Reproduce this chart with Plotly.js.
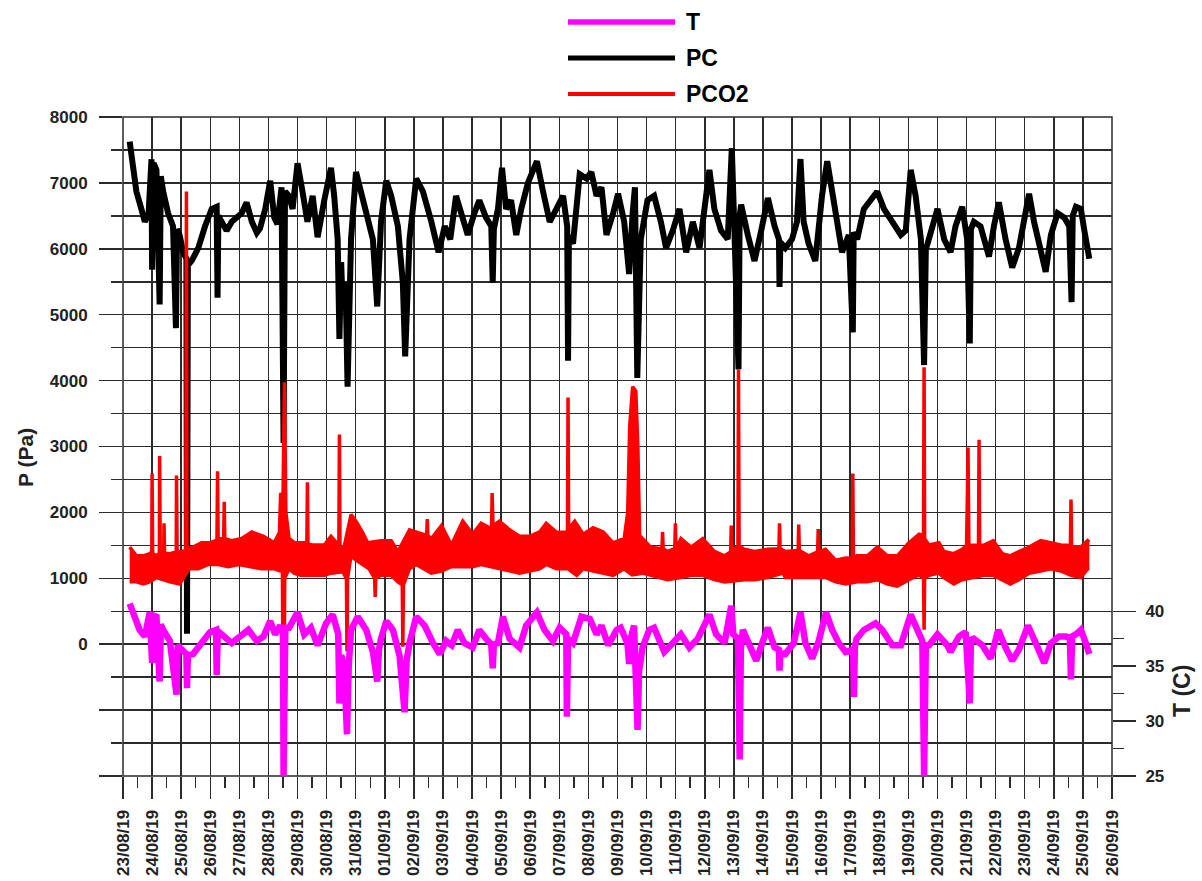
<!DOCTYPE html>
<html>
<head>
<meta charset="utf-8">
<script src="https://cdn.plot.ly/plotly-3.0.1.min.js"></script>
<style>html,body{margin:0;padding:0;background:#fff;}#chart{width:1202px;height:881px;}</style>
</head>
<body>
<div id="chart"></div>
<script>
// Tick labels: one per day, 23/08/19 .. 26/09/19 (x = days since 23/08/19 00:00)
const dateLabels = ['23/08/19','24/08/19','25/08/19','26/08/19','27/08/19','28/08/19','29/08/19','30/08/19','31/08/19',
  '01/09/19','02/09/19','03/09/19','04/09/19','05/09/19','06/09/19','07/09/19','08/09/19','09/09/19','10/09/19',
  '11/09/19','12/09/19','13/09/19','14/09/19','15/09/19','16/09/19','17/09/19','18/09/19','19/09/19','20/09/19',
  '21/09/19','22/09/19','23/09/19','24/09/19','25/09/19','26/09/19'];
const dateTickDays = [0,1,2,3,4,5,6,7,8,9,10,11,12,13,14,15,16,17,18,19,20,21,22,23,24,25,26,27,28,29,30,31,32,33,34];
const pTickVals = [-2000,-1000,0,1000,2000,3000,4000,5000,6000,7000,8000];
const pTickText = ['','','0','1000','2000','3000','4000','5000','6000','7000','8000'];
const tTickVals = [25,30,35,40];
const tMinorVals = [27.5,32.5,37.5];

// PC (Pa)
const pcDays = [0.23,0.34,0.46,0.63,0.75,0.88,0.98,1.0,1.05,1.15,1.26,1.3,1.38,1.55,1.72,1.82,1.86,1.95,2.07,2.18,2.2,2.23,2.36,2.59,2.82,3.05,3.22,3.25,3.28,3.39,3.56,3.74,3.91,4.08,4.25,4.43,4.6,4.71,4.89,5.06,5.2,5.31,5.45,5.52,5.57,5.71,5.83,6.0,6.17,6.34,6.52,6.69,6.92,7.15,7.26,7.38,7.44,7.5,7.55,7.65,7.72,7.78,7.84,8.01,8.18,8.41,8.59,8.74,8.8,8.87,9.05,9.22,9.45,9.62,9.7,9.76,9.85,10.08,10.31,10.6,10.85,11.06,11.25,11.45,11.68,11.85,12.08,12.25,12.48,12.66,12.71,12.75,12.89,13.03,13.17,13.34,13.52,13.69,13.92,14.23,14.44,14.67,14.9,15.13,15.27,15.3,15.33,15.47,15.7,15.93,16.1,16.28,16.45,16.62,16.85,17.02,17.23,17.4,17.52,17.6,17.68,17.74,17.8,18.03,18.26,18.49,18.67,18.9,19.13,19.36,19.59,19.82,19.99,20.16,20.33,20.56,20.79,20.93,21.02,21.16,21.2,21.25,21.48,21.71,21.94,22.17,22.4,22.55,22.57,22.6,22.77,23.0,23.17,23.29,23.4,23.57,23.8,24.03,24.21,24.38,24.55,24.72,24.95,25.09,25.12,25.24,25.47,25.7,25.93,26.16,26.45,26.74,26.91,27.08,27.25,27.43,27.54,27.6,27.66,27.83,28.0,28.23,28.45,28.62,28.85,29.02,29.11,29.15,29.25,29.48,29.77,29.94,30.11,30.34,30.57,30.8,30.98,31.15,31.32,31.55,31.72,31.9,32.13,32.36,32.53,32.61,32.65,32.76,32.93,33.05,33.16,33.22];
const pcValues = [7625,7263,6870,6605,6410,6540,7360,5684,7300,7197,5157,7100,6870,6540,6342,4795,6300,6200,5947,5850,157,5750,5816,6013,6342,6605,6638,5256,6500,6410,6276,6410,6473,6539,6704,6410,6243,6309,6605,7033,6473,6375,6934,3052,6870,6803,6605,7296,6870,6410,6803,6177,6737,7230,6803,6145,4631,5800,5158,5500,3907,5200,6145,7164,6870,6473,6145,5125,5900,6409,7033,6803,6342,5487,4368,5300,6145,7066,6870,6410,5947,6342,6145,6803,6473,6210,6539,6737,6473,6342,5487,6300,6605,7230,6605,6737,6210,6605,7000,7329,6870,6410,6605,6803,6342,4302,6200,6079,7132,7066,7164,6803,6934,6210,6539,6836,6410,5618,6539,6934,4039,5000,6145,6737,6803,6410,6013,6276,6605,5947,6410,6013,6605,7197,6605,6276,6145,7526,6276,4170,6500,6671,6210,5816,6276,6770,6342,6145,5421,6100,6013,6145,6410,7362,6410,6079,5816,6803,7329,6803,6410,5947,6210,4730,6250,6145,6605,6737,6870,6605,6410,6210,6276,7197,6803,6145,4236,6000,6079,6342,6605,6145,5947,6342,6638,6145,4565,6300,6410,6342,5882,6342,6704,6145,5717,6013,6473,6836,6410,6013,5651,6210,6539,6473,6342,5190,6500,6638,6605,6276,5882,5849];

// PCO2 (Pa): upper and lower edges of the noisy band, spikes included
const co2UpperDays = [0.23,0.46,0.7,0.92,0.99,1.0,1.02,1.15,1.25,1.26,1.28,1.4,1.41,1.43,1.61,1.83,1.84,1.86,2.0,2.16,2.18,2.2,2.41,2.7,2.99,3.23,3.25,3.27,3.46,3.48,3.5,3.74,4.08,4.43,4.83,5.2,5.38,5.42,5.5,5.55,5.6,5.71,5.9,6.15,6.32,6.34,6.36,6.52,6.92,7.15,7.42,7.44,7.46,7.6,7.84,8.01,8.23,8.41,8.87,9.22,9.45,9.85,10.08,10.44,10.46,10.48,10.6,10.95,11.29,11.68,12.02,12.31,12.67,12.69,12.72,12.94,13.29,13.63,13.98,14.32,14.55,14.9,15.28,15.3,15.32,15.53,15.82,16.16,16.51,16.85,17.23,17.35,17.42,17.52,17.63,17.7,17.76,17.86,18.14,18.53,18.55,18.57,18.72,18.97,18.99,19.01,19.18,19.53,19.93,20.33,20.68,20.89,20.91,20.93,21.14,21.16,21.18,21.36,21.71,22.17,22.55,22.57,22.59,22.77,23.11,23.21,23.23,23.25,23.57,23.88,23.9,23.92,24.15,24.5,24.84,25.07,25.09,25.11,25.24,25.59,25.93,26.28,26.62,27.02,27.37,27.52,27.54,27.56,27.71,28.05,28.22,28.56,28.85,29.0,29.03,29.05,29.08,29.41,29.43,29.45,29.6,29.92,30.23,30.51,30.8,31.15,31.55,31.9,32.24,32.57,32.59,32.61,32.93,33.16,33.22];
const co2UpperValues = [1473,1341,1341,1374,1400,2591,1380,1341,1380,2854,1380,1400,1834,1380,1374,1400,2558,1400,1407,1420,6870,1450,1473,1538,1538,1580,2624,1600,1600,2163,1600,1571,1604,1703,1637,1538,1700,2295,2200,3973,2000,1604,1538,1538,1540,2459,1520,1505,1505,1637,1500,3183,1480,1473,1966,1867,1703,1538,1571,1571,1407,1736,1703,1650,1900,1650,1604,1801,1505,1867,1670,1834,1750,2295,1800,1867,1736,1637,1637,1703,1834,1703,1700,3743,1750,1867,1670,1768,1703,1538,1604,2000,3315,3907,3841,3000,1650,1604,1473,1450,1703,1450,1407,1450,1834,1450,1604,1473,1604,1407,1341,1400,1801,1400,1500,4170,1500,1440,1407,1440,1450,1834,1450,1407,1407,1420,1815,1420,1341,1400,1749,1400,1440,1275,1308,1300,2591,1320,1341,1341,1473,1341,1341,1538,1670,1650,4203,1600,1505,1538,1407,1374,1440,1500,2300,2986,1500,1500,3104,1500,1505,1571,1374,1341,1407,1473,1571,1538,1505,1500,2196,1500,1473,1571,1550];
const co2LowerDays = [0.23,0.46,0.7,0.92,1.15,1.61,1.95,2.27,2.59,2.94,3.28,3.62,3.97,4.43,4.77,5.2,5.48,5.52,5.56,5.71,5.88,6.11,6.57,6.92,7.15,7.55,7.68,7.7,7.72,7.84,8.01,8.23,8.46,8.65,8.67,8.69,8.87,9.22,9.45,9.6,9.62,9.64,9.85,10.08,10.6,10.95,11.29,11.68,12.02,12.31,12.94,13.29,13.63,13.98,14.32,14.55,14.9,15.3,15.6,15.82,16.16,16.51,16.85,17.23,17.5,17.86,18.14,18.72,19.18,19.53,19.93,20.33,20.68,21.36,21.71,22.17,22.69,22.77,23.11,23.57,24.15,24.5,24.84,25.24,25.59,25.93,26.28,26.62,27.02,27.37,27.52,27.54,27.56,27.71,28.05,28.22,28.56,28.85,29.6,29.92,30.23,30.51,30.8,31.15,31.55,31.9,32.24,32.59,32.93,33.16,33.22];
const co2LowerValues = [946,946,913,946,1012,946,913,1144,1144,1210,1210,1177,1210,1177,1144,1144,1100,-2000,1000,1144,1078,1045,1045,1045,1078,1100,1000,-106,1000,1341,1275,1210,1144,1000,716,1000,1045,1045,946,900,-40,900,1144,1210,1078,1111,1177,1177,1177,1210,1144,1111,1078,1111,1144,1210,1144,1144,1045,1144,1111,1078,1045,1144,1050,1078,1045,979,1012,1045,1045,979,946,979,979,1012,1078,1012,1012,1012,1012,946,913,946,946,979,913,880,979,1050,1000,220,1000,1045,1078,1012,913,979,1045,1045,979,913,979,1078,1111,1144,1111,1045,1012,1144,1150];

// T (°C)
const tDays = [0.23,0.4,0.57,0.75,0.92,1.0,1.05,1.15,1.26,1.3,1.38,1.61,1.84,1.88,1.95,2.18,2.2,2.23,2.41,2.7,2.99,3.2,3.22,3.26,3.45,3.74,4.02,4.31,4.6,4.83,5.06,5.23,5.4,5.5,5.52,5.55,5.58,5.71,6.0,6.23,6.46,6.69,6.98,7.21,7.4,7.44,7.5,7.6,7.7,7.76,7.84,8.07,8.36,8.59,8.74,8.8,8.87,9.05,9.28,9.51,9.68,9.75,9.85,10.08,10.37,10.66,10.89,11.11,11.3,11.51,11.74,12.02,12.25,12.48,12.66,12.71,12.75,12.89,13.06,13.29,13.63,13.86,14.23,14.49,14.78,15.01,15.24,15.26,15.3,15.47,15.76,16.05,16.28,16.45,16.68,16.97,17.11,17.34,17.4,17.45,17.57,17.69,17.74,17.86,18.09,18.26,18.61,18.9,19.18,19.47,19.76,20.16,20.39,20.68,20.91,20.98,21.14,21.2,21.24,21.31,21.54,21.77,22.0,22.17,22.4,22.55,22.57,22.6,22.77,23.06,23.29,23.46,23.69,23.92,24.17,24.38,24.61,24.84,25.1,25.13,25.16,25.22,25.47,25.87,26.1,26.45,26.74,26.91,27.08,27.31,27.48,27.54,27.6,27.71,28.0,28.34,28.45,28.74,28.97,29.11,29.15,29.25,29.54,29.83,30.09,30.34,30.57,30.8,31.11,31.38,31.67,31.9,32.18,32.41,32.55,32.59,32.63,32.76,32.93,33.1,33.22];
const tValues = [40.7,39.5,38.3,37.7,39.9,35.3,39.6,39.5,33.6,38.8,38.3,37.3,32.4,36.9,36.7,36.1,33.0,36.0,36.1,37.1,38.1,38.3,34.2,38.2,37.7,37.1,37.7,38.3,37.3,37.7,39.1,37.9,38.7,38.0,25.0,31.0,38.5,38.5,39.9,37.9,38.5,36.9,38.9,39.7,37.9,31.6,36.0,35.0,28.8,35.0,38.3,39.5,38.3,36.3,33.6,36.5,37.5,39.1,38.3,35.9,30.8,35.5,37.1,39.5,38.7,37.1,36.1,37.3,36.9,38.3,37.1,36.7,38.3,37.5,37.0,34.8,37.0,37.1,39.5,37.5,36.7,38.7,39.9,38.3,37.3,38.5,37.9,30.4,37.5,37.1,39.5,39.3,37.9,38.7,36.9,38.3,38.5,37.1,35.2,37.5,38.7,29.2,34.5,36.7,38.3,38.5,36.3,37.1,37.9,36.7,37.5,39.7,37.9,37.1,40.5,37.9,37.5,26.5,36.5,38.3,36.7,35.5,37.3,38.5,36.7,36.5,34.6,36.2,36.1,37.1,39.9,37.1,35.7,37.3,39.9,38.3,37.1,36.3,36.5,32.2,36.8,37.5,38.3,38.9,38.3,36.9,36.9,38.3,39.7,38.3,37.3,25.0,36.9,36.9,37.9,36.9,36.3,37.7,38.1,31.6,37.4,37.5,36.9,35.7,38.3,36.7,35.5,36.5,38.7,37.1,35.3,37.1,37.7,37.7,37.6,33.8,37.7,37.9,38.3,37.1,36.1];

const FONT = 'Liberation Sans, Arial, Helvetica, sans-serif';
const TXT = '#222';
const GRID = '#2b2b2b';

const traces = [
  {x: pcDays, y: pcValues, type: 'scatter', mode: 'lines', name: 'PC',
   line: {color: '#000000', width: 6}, showlegend: false, hoverinfo: 'skip'},
  {x: co2LowerDays, y: co2LowerValues, type: 'scatter', mode: 'lines', name: 'PCO2 low',
   line: {color: '#ff0000', width: 3.5}, showlegend: false, hoverinfo: 'skip'},
  {x: co2UpperDays, y: co2UpperValues, type: 'scatter', mode: 'lines', name: 'PCO2',
   line: {color: '#ff0000', width: 3.5}, fill: 'tonexty', fillcolor: '#ff0000', showlegend: false, hoverinfo: 'skip'},
  {x: tDays, y: tValues, type: 'scatter', mode: 'lines', name: 'T', yaxis: 'y2',
   line: {color: '#ff00ff', width: 6.5}, showlegend: false, hoverinfo: 'skip'}
];

const L = 123, R = 1112, T = 117, B = 776;
const px = v => (v - L) / (R - L);
const py = v => (B - v) / (B - T);

const legendItems = [
  {text: 'T', color: '#ff00ff', width: 5.5, y: 22},
  {text: 'PC', color: '#000000', width: 5, y: 58},
  {text: 'PCO2', color: '#ff0000', width: 4, y: 94}
];
const shapes = legendItems.map(it => ({type: 'line', xref: 'paper', yref: 'paper',
  x0: px(568), x1: px(675), y0: py(it.y), y1: py(it.y), line: {color: it.color, width: it.width}}));
// plot frame (edge grid lines)
shapes.push({type: 'rect', xref: 'paper', yref: 'paper', x0: 0, x1: 1, y0: 0, y1: 1, layer: 'below',
  line: {color: GRID, width: 1.5}});
const annotations = legendItems.map(it => ({xref: 'paper', yref: 'paper', x: px(684), y: py(it.y),
  xanchor: 'left', yanchor: 'middle', text: it.text, showarrow: false,
  font: {family: FONT, size: 23, color: '#000', weight: 'bold'}}));
annotations.push({xref: 'paper', yref: 'paper', x: px(25), y: py(458), text: 'P (Pa)', textangle: -90,
  showarrow: false, xanchor: 'center', yanchor: 'middle', font: {family: FONT, size: 21, color: TXT, weight: 'bold'}});
annotations.push({xref: 'paper', yref: 'paper', x: px(1182), y: py(691), text: 'T (C)', textangle: -90,
  showarrow: false, xanchor: 'center', yanchor: 'middle', font: {family: FONT, size: 23, color: TXT, weight: 'bold'}});

const layout = {
  width: 1202, height: 881, autosize: false,
  margin: {l: L, r: 1202 - R, t: T, b: 881 - B, pad: 0},
  paper_bgcolor: '#ffffff', plot_bgcolor: '#ffffff',
  showlegend: false, hovermode: false,
  xaxis: {
    range: [0, 34], tickmode: 'array', tickvals: dateTickDays, ticktext: dateLabels, tickangle: -90,
    ticks: 'outside', ticklen: 22, tickwidth: 1.5, tickcolor: GRID,
    showgrid: true, gridcolor: GRID, gridwidth: 1.5, zeroline: false, showline: false,
    minor: {dtick: 0.5, tick0: 0, ticks: 'outside', ticklen: 11, tickwidth: 1.5, tickcolor: GRID, showgrid: false},
    tickfont: {family: FONT, size: 17, color: TXT, weight: 'bold'}, ticklabelstandoff: 4
  },
  yaxis: {
    range: [-2000, 8000], tickmode: 'array', tickvals: pTickVals, ticktext: pTickText,
    ticks: 'outside', ticklen: 23, tickwidth: 1.5, tickcolor: GRID,
    showgrid: true, gridcolor: GRID, gridwidth: 1.5, zeroline: false, showline: false,
    minor: {dtick: 500, tick0: 0, ticks: 'outside', ticklen: 11, tickwidth: 1.5, tickcolor: GRID,
            showgrid: true, gridcolor: GRID, gridwidth: 1.5},
    tickfont: {family: FONT, size: 17, color: TXT, weight: 'bold'}, ticklabelstandoff: 8
  },
  yaxis2: {
    overlaying: 'y', side: 'right', range: [25, 85], tickmode: 'array', tickvals: tTickVals,
    ticks: 'outside', ticklen: 23, tickwidth: 1.5, tickcolor: GRID,
    showgrid: false, zeroline: false, showline: false,
    minor: {tickmode: 'array', tickvals: tMinorVals, ticks: 'outside', ticklen: 11, tickwidth: 1.5, tickcolor: GRID, showgrid: false},
    tickfont: {family: FONT, size: 17, color: TXT, weight: 'bold'}, ticklabelstandoff: 6
  },
  shapes: shapes,
  annotations: annotations
};

Plotly.newPlot('chart', traces, layout, {displayModeBar: false, staticPlot: true});
</script>
</body>
</html>
